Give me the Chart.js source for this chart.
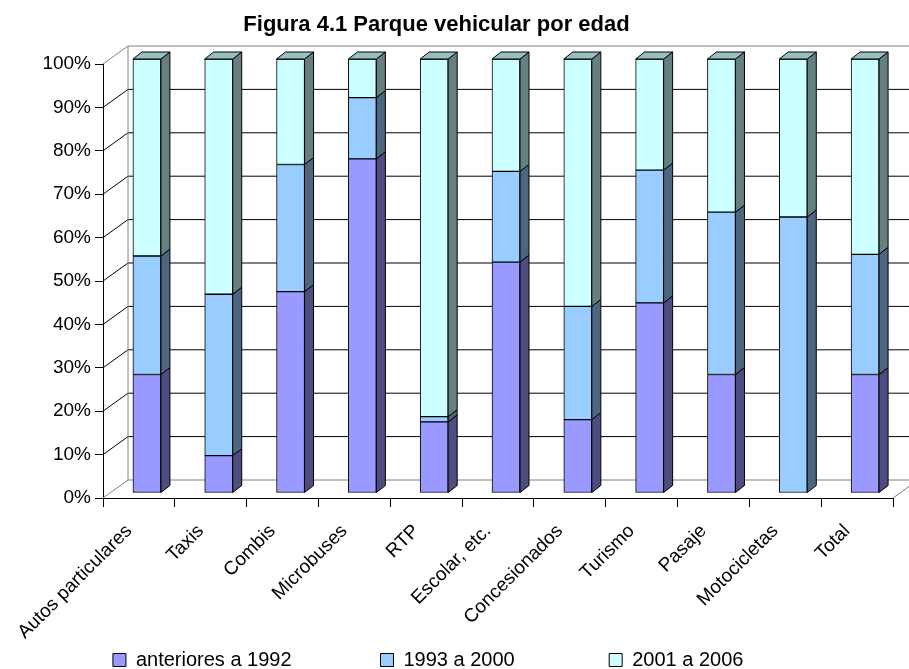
<!DOCTYPE html>
<html>
<head>
<meta charset="utf-8">
<script src="https://cdn.jsdelivr.net/npm/chart.js@4.4.1/dist/chart.umd.min.js"></script>
<style>
html,body{margin:0;padding:0;background:#ffffff;}
#wrap{width:909px;height:669px;}
</style>
</head>
<body>
<div id="wrap"><canvas id="c" width="909" height="669"></canvas></div>
<script>
// ---- data ----
const categories = ['Autos particulares','Taxis','Combis','Microbuses','RTP','Escolar, etc.','Concesionados','Turismo','Pasaje','Motocicletas','Total'];
const seriesNames = ['anteriores a 1992','1993 a 2000','2001 a 2006'];
const anteriores1992 = [27.3, 8.6, 46.4, 77.0, 16.4, 53.2, 16.9, 43.8, 27.3, 0.0, 27.3];
const de1993a2000   = [27.3, 37.2, 29.3, 14.1, 1.2, 20.9, 26.1, 30.6, 37.4, 63.6, 27.7];
const de2001a2006   = [45.4, 54.2, 24.3, 8.9, 82.4, 25.9, 57.0, 25.6, 35.3, 36.4, 45.0];
const yTickValues = [0,10,20,30,40,50,60,70,80,90,100];
const titleText = 'Figura 4.1 Parque vehicular por edad';

// ---- styles ----
const FONT = "'Liberation Sans', Arial, sans-serif";
const frontColors = ['#9999FF','#99CCFF','#CCFFFF'];
const sideColors  = ['#4D4D80','#4D6680','#668080'];
const topColors   = ['#7373BF','#7399BF','#99BFBF'];
const BX = 8, BY = -5;    // bar plane offset from front plane
const DX = 9, DY = -7;    // bar depth
const WX = 25, WY = -18;  // back wall offset
const PADL = -20;

const depth3d = {
  id: 'depth3d',
  beforeDatasetsDraw(chart) {
    const ctx = chart.ctx;
    const {left, right, top, bottom} = chart.chartArea;
    const y = chart.scales.y;
    ctx.save();
    ctx.lineWidth = 1;
    yTickValues.forEach(v => {
      const py = y.getPixelForValue(v);
      const edge = (v === 0 || v === 100);
      ctx.strokeStyle = edge ? '#808080' : '#000000';
      ctx.beginPath();
      ctx.moveTo(left, py);
      ctx.lineTo(left + WX, py + WY);
      ctx.lineTo(right + WX, py + WY);
      ctx.stroke();
    });
    ctx.strokeStyle = '#808080';
    ctx.beginPath();
    ctx.moveTo(left + WX, top + WY);
    ctx.lineTo(left + WX, bottom + WY);
    ctx.moveTo(right, bottom);
    ctx.lineTo(right + WX, bottom + WY);
    ctx.stroke();
    ctx.restore();
    ctx.save();
    ctx.translate(BX, BY);
  },
  afterDatasetsDraw(chart) {
    const ctx = chart.ctx;
    const metas = chart.getSortedVisibleDatasetMetas();
    ctx.lineWidth = 1;
    ctx.strokeStyle = '#000000';
    ctx.lineJoin = 'miter';
    for (let i = 0; i < categories.length; i++) {
      let topEl = null, topIdx = -1;
      metas.forEach((meta, d) => {
        const el = meta.data[i];
        if (!el) return;
        const p = el.getProps(['x','y','base','width'], true);
        if (Math.abs(p.base - p.y) < 0.5) return;
        const xr = p.x + p.width / 2;
        ctx.fillStyle = sideColors[d];
        ctx.beginPath();
        ctx.moveTo(xr, p.y);
        ctx.lineTo(xr + DX, p.y + DY);
        ctx.lineTo(xr + DX, p.base + DY);
        ctx.lineTo(xr, p.base);
        ctx.closePath();
        ctx.fill();
        ctx.stroke();
        topEl = p; topIdx = d;
      });
      if (topEl) {
        const xl = topEl.x - topEl.width / 2, xr = topEl.x + topEl.width / 2;
        ctx.fillStyle = topColors[topIdx];
        ctx.beginPath();
        ctx.moveTo(xl, topEl.y);
        ctx.lineTo(xl + DX, topEl.y + DY);
        ctx.lineTo(xr + DX, topEl.y + DY);
        ctx.lineTo(xr, topEl.y);
        ctx.closePath();
        ctx.fill();
        ctx.stroke();
      }
    }
    ctx.restore();
  }
};

const legendSpaces = [16, 17, 3];

new Chart(document.getElementById('c'), {
  type: 'bar',
  data: {
    labels: categories,
    datasets: [anteriores1992, de1993a2000, de2001a2006].map((arr, d) => ({
      label: seriesNames[d],
      data: arr,
      backgroundColor: frontColors[d],
      borderColor: '#000000',
      borderWidth: 1,
      borderSkipped: false,
      barThickness: 28,
      clip: false
    }))
  },
  options: {
    responsive: false,
    animation: false,
    devicePixelRatio: 1,
    layout: { padding: { left: PADL, right: 16, top: 0, bottom: -11 } },
    plugins: {
      title: {
        display: true,
        text: titleText,
        color: '#000000',
        font: { family: FONT, size: 22, weight: 'bold' },
        padding: { top: 12, bottom: 25.6 }
      },
      legend: {
        position: 'bottom',
        labels: {
          color: '#000000',
          font: { family: FONT, size: 20 },
          boxWidth: 13,
          boxHeight: 13,
          padding: 0,
          generateLabels(chart) {
            const base = Chart.defaults.plugins.legend.labels.generateLabels(chart);
            return base.map((it, k) => Object.assign(it, { text: it.text + ' '.repeat(legendSpaces[k]), lineWidth: 1 }));
          }
        }
      },
      tooltip: { enabled: false }
    },
    scales: {
      x: {
        stacked: true,
        grid: { display: true, drawOnChartArea: false, offset: true, tickLength: 9, color: '#000000' },
        border: { display: true, color: '#000000' },
        ticks: {
          autoSkip: false,
          minRotation: 45,
          maxRotation: 45,
          padding: 13,
          labelOffset: -10,
          color: '#000000',
          font: { family: FONT, size: 19 }
        },
        afterFit(scale) { scale.height = 152; }
      },
      y: {
        stacked: true,
        min: 0,
        max: 100,
        grid: { display: true, drawOnChartArea: false, tickLength: 8, color: '#000000' },
        border: { display: true, color: '#000000' },
        ticks: {
          stepSize: 10,
          padding: 4,
          color: '#000000',
          font: { family: FONT, size: 19 },
          callback: v => v + '%'
        },
        afterFit(scale) { scale.width = 103 - PADL; }
      }
    }
  },
  plugins: [depth3d]
});
</script>
</body>
</html>
